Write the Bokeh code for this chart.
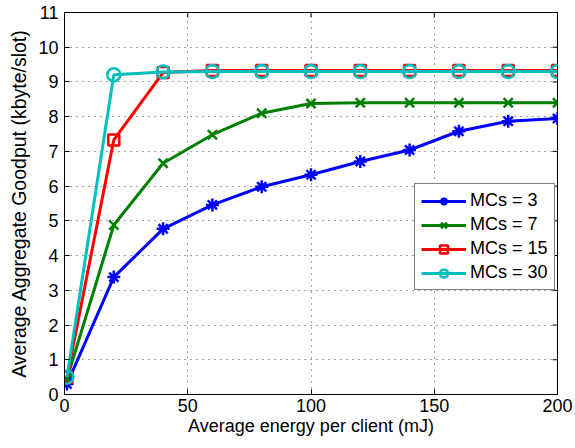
import math
from bokeh.plotting import figure
from bokeh.models import Range1d, Legend, LegendItem, FixedTicker
from bokeh.embed import file_html
from bokeh.resources import INLINE

energy = [1, 20, 40, 60, 80, 100, 120, 140, 160, 180, 200]
mcs3 = [0.30, 3.38, 4.77, 5.46, 5.98, 6.33, 6.71, 7.04, 7.58, 7.87, 7.95]
mcs7 = [0.45, 4.88, 6.66, 7.48, 8.10, 8.38, 8.40, 8.40, 8.40, 8.40, 8.40]
mcs15 = [0.50, 7.33, 9.27, 9.33, 9.33, 9.33, 9.33, 9.33, 9.33, 9.33, 9.33]
mcs30 = [0.50, 9.21, 9.29, 9.30, 9.30, 9.30, 9.30, 9.30, 9.30, 9.30, 9.30]
labels = ["MCs = 3", "MCs = 7", "MCs = 15", "MCs = 30"]
x_ticks = [0, 50, 100, 150, 200]
y_ticks = list(range(0, 12))
x_min, x_max, y_min, y_max = 0, 200, 0, 11

FONT = "Liberation Sans"

p = figure(width=575, height=448, output_backend="svg", toolbar_location=None,
           x_range=Range1d(x_min, x_max), y_range=Range1d(y_min, y_max),
           min_border_left=64, min_border_right=18, min_border_top=12, min_border_bottom=54)
p.background_fill_color = "white"
p.border_fill_color = "white"
p.outline_line_color = "black"
p.outline_line_width = 1

for ax in (p.xaxis[0], p.yaxis[0]):
    ax.major_tick_in = 5
    ax.major_tick_out = 0
    ax.minor_tick_in = 0
    ax.minor_tick_out = 0
    ax.axis_line_color = "black"
    ax.major_label_text_font = FONT
    ax.major_label_text_font_size = "18px"
    ax.major_label_text_color = "black"
    ax.axis_label_text_font = FONT
    ax.axis_label_text_font_style = "normal"
    ax.axis_label_text_color = "black"

p.xaxis[0].ticker = FixedTicker(ticks=x_ticks)
p.yaxis[0].ticker = FixedTicker(ticks=y_ticks)
p.xaxis[0].axis_label = "Average energy per client (mJ)"
p.yaxis[0].axis_label = "Average Aggregate Goodput (kbyte/slot)"
p.xaxis[0].axis_label_text_font_size = "18px"
p.yaxis[0].axis_label_text_font_size = "19.5px"
p.xaxis[0].major_label_standoff = 4
p.xaxis[0].axis_label_standoff = 1
p.yaxis[0].major_label_standoff = 6
p.yaxis[0].axis_label_standoff = 5

# inward ticks on the top and right edges of the box
p.ray(x=x_ticks, y=[y_max] * len(x_ticks), length=5, length_units="screen",
      angle=-math.pi / 2, line_color="black", line_width=1)
p.ray(x=[x_max] * len(y_ticks), y=y_ticks, length=5, length_units="screen",
      angle=math.pi, line_color="black", line_width=1)

p.xgrid.ticker = FixedTicker(ticks=[50, 100, 150])
p.ygrid.ticker = FixedTicker(ticks=list(range(1, 11)))
for g in (p.xgrid[0], p.ygrid[0]):
    g.grid_line_color = "#444444"
    g.grid_line_dash = "1 5"
    g.grid_line_width = 1

series = [
    (mcs3, "#0000ff", "asterisk", "#0000ff"),
    (mcs7, "#007f00", "x", "#007f00"),
    (mcs15, "#ff0000", "square", None),
    (mcs30, "#00bfbf", "circle", None),
]
items = []
for (ys, col, mk, fill), lab in zip(series, labels):
    l = p.line(energy, ys, line_color=col, line_width=3)
    m = p.scatter(energy, ys, marker=mk, size=13 if mk != "square" else 11,
                  line_color=col, line_width=2.5, fill_color=fill)
    items.append(LegendItem(label=lab, renderers=[l, m]))

legend = Legend(items=items, location=(350, 104))
legend.label_text_font = FONT
legend.label_text_font_size = "18px"
legend.label_text_color = "black"
legend.glyph_width = 45
legend.glyph_height = 20
legend.label_standoff = 4
legend.spacing = 3
legend.padding = 6
legend.margin = 0
legend.border_line_color = "black"
legend.border_line_width = 1
legend.background_fill_color = "white"
legend.background_fill_alpha = 1
p.add_layout(legend, "center")

open("out.html", "w").write(file_html(p, INLINE))
